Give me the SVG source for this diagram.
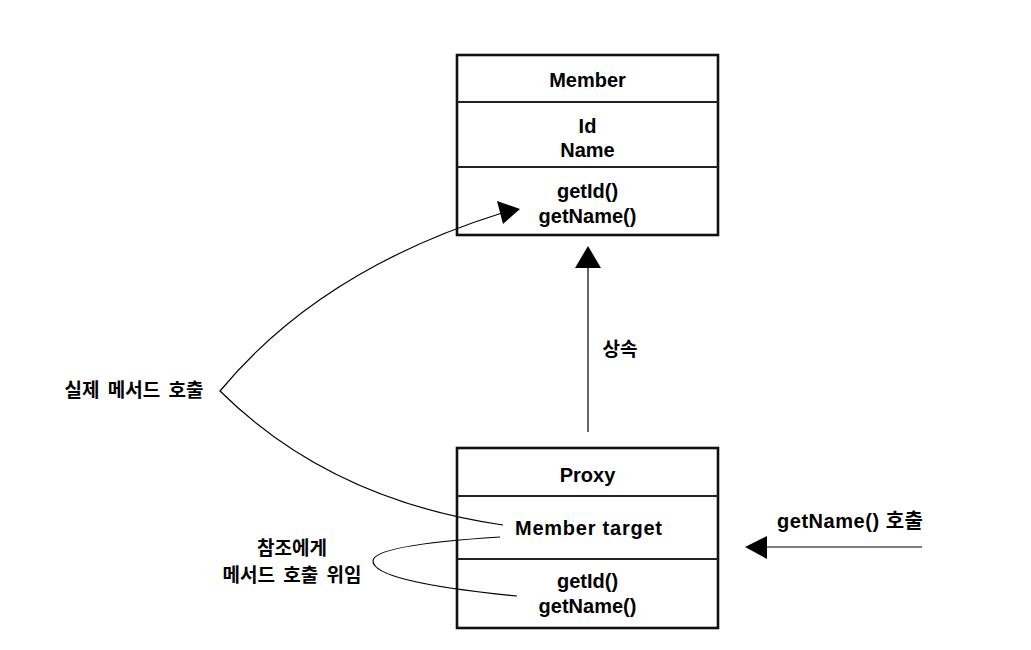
<svg xmlns="http://www.w3.org/2000/svg" width="1031" height="650" viewBox="0 0 1031 650">
<style>
.box{fill:#fff;stroke:#111;stroke-width:2.6}
.div{stroke:#222;stroke-width:2}
.t{font-family:"Liberation Sans","Noto Sans CJK KR",sans-serif;font-weight:bold;font-size:20px;fill:#000;text-anchor:middle}
.k{font-family:"Noto Sans CJK KR","Liberation Sans",sans-serif;font-weight:bold;font-size:19px;fill:#000;text-anchor:middle;word-spacing:4px}
.line{fill:none;stroke:#000;stroke-width:1.2}
</style>
<rect width="1031" height="650" fill="#fff"/>
<g id="member">
<rect class="box" x="457" y="55" width="261" height="180"/>
<line class="div" x1="457" y1="102" x2="718" y2="102"/>
<line class="div" x1="457" y1="167" x2="718" y2="167"/>
<text class="t" x="587.5" y="87">Member</text>
<text class="t" x="587.5" y="133">Id</text>
<text class="t" x="587.5" y="157">Name</text>
<text class="t" x="587.5" y="198">getId()</text>
<text class="t" x="587.5" y="223">getName()</text>
</g>
<g id="proxy">
<rect class="box" x="457" y="448" width="261" height="180"/>
<line class="div" x1="457" y1="496" x2="718" y2="496"/>
<line class="div" x1="457" y1="559" x2="718" y2="559"/>
<text class="t" x="587.5" y="482">Proxy</text>
<text class="t" x="588.5" y="535" textLength="147" lengthAdjust="spacing">Member target</text>
<text class="t" x="587.5" y="588">getId()</text>
<text class="t" x="587.5" y="613">getName()</text>
</g>
<g id="connectors">
<line class="line" x1="588" y1="266" x2="588" y2="432"/>
<polygon points="588,246 575,268 601,268" fill="#000"/>
<path class="line" d="M 502 213 Q 320 270 220 391 Q 330 500 503 525"/>
<polygon points="520,209 497,201 503,224" fill="#000"/>
<path class="line" d="M 500 537 Q 373 545 373 561 Q 373 582 517 596"/>
<line class="line" x1="765" y1="547" x2="922" y2="547"/>
<polygon points="745,547 767,536 767,559" fill="#000"/>
</g>
<g id="labels">
<text class="k" x="620" y="356">상속</text>
<text class="k" x="134" y="397">실제 메서드 호출</text>
<text class="k" x="292" y="555">참조에게</text>
<text class="k" x="292" y="582">메서드 호출 위임</text>
<text class="t" x="850" y="528" textLength="146" lengthAdjust="spacing">getName() 호출</text>
</g>
</svg>
